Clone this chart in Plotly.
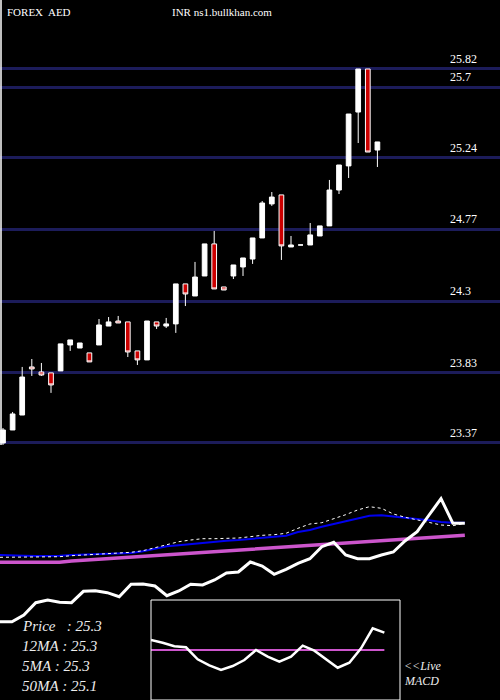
import plotly.graph_objects as go

# Candles (price, AED/INR)
opens = [23.370,23.455,23.553,23.868,23.835,23.829,23.842,24.012,23.992,23.960,
         24.012,24.136,24.169,24.163,23.973,23.914,24.163,24.136,24.150,24.412,
         24.333,24.464,24.674,24.392,24.464,24.523,24.575,24.713,24.936,24.995,
         24.654,24.667,24.667,24.726,24.792,25.027,25.185,25.538,25.820,25.289]
highs = [23.468,23.573,23.868,23.920,23.894,23.829,24.019,24.045,24.025,23.960,
         24.182,24.195,24.202,24.163,23.973,24.169,24.163,24.189,24.412,24.412,
         24.556,24.674,24.759,24.392,24.536,24.582,24.713,24.955,25.014,24.995,
         24.726,24.667,24.811,24.792,25.093,25.191,25.525,25.820,25.820,25.342]
lows = [23.357,23.455,23.553,23.809,23.809,23.698,23.842,23.973,23.992,23.901,
        24.012,24.136,24.156,23.933,23.881,23.914,24.117,24.123,24.091,24.267,
        24.333,24.464,24.379,24.372,24.444,24.464,24.543,24.713,24.923,24.569,
        24.654,24.667,24.667,24.726,24.792,25.001,25.106,25.335,25.276,25.178]
closes = [23.455,23.560,23.802,23.855,23.815,23.750,24.019,24.045,24.025,23.901,
          24.143,24.163,24.156,23.966,23.914,24.169,24.136,24.150,24.412,24.346,
          24.457,24.674,24.379,24.372,24.536,24.582,24.713,24.942,24.981,24.661,
          24.667,24.667,24.733,24.792,25.027,25.191,25.525,25.820,25.276,25.342]
price_ticks = [25.82, 25.7, 25.24, 24.77, 24.3, 23.83, 23.37]
tick_labels = ["25.82", "25.7", "25.24", "24.77", "24.3", "23.83", "23.37"]

# Lower indicator panel (arbitrary units)
price_line = [7.83,7.83,8.5,9.73,10.0,9.77,9.73,10.87,10.93,10.73,10.33,11.57,11.6,11.4,10.43,10.9,
              11.57,11.5,12.0,12.7,12.8,13.8,13.4,12.57,13.07,13.67,14.13,15.33,15.77,14.5,14.13,
              14.13,14.5,14.8,15.93,16.83,18.5,20.13,17.67,17.67]
ma12 = [14.5,14.5,14.43,14.4,14.4,14.43,14.5,14.53,14.6,14.63,14.67,14.7,14.87,15.1,15.37,15.47,
        15.6,15.7,15.8,15.93,16.0,16.1,16.17,16.27,16.43,16.8,17.0,17.33,17.6,17.83,18.13,18.43,
        18.47,18.37,18.23,18.1,17.97,17.8,17.73,17.73]
ma5 = [14.27,14.27,14.27,14.27,14.27,14.33,14.43,14.5,14.57,14.63,14.7,14.77,14.93,15.23,15.57,
       15.83,16.0,16.13,16.13,16.13,16.2,16.33,16.47,16.53,16.67,17.17,17.6,17.73,18.1,18.53,19.0,
       19.33,19.17,18.6,18.27,18.0,17.73,17.5,17.43,17.67]
ma50 = [13.77,13.77,13.77,13.77,13.77,13.77,13.9,13.98,14.06,14.13,14.21,14.29,14.37,14.44,14.52,
        14.6,14.68,14.76,14.83,14.91,14.99,15.07,15.14,15.22,15.3,15.38,15.46,15.53,15.61,15.69,
        15.77,15.85,15.92,16.0,16.08,16.16,16.24,16.31,16.39,16.47]
macd = [1.0,0.73,0.37,0.27,-0.93,-1.53,-2.0,-1.6,-1.0,0.0,-0.67,-1.17,-0.67,0.43,-0.07,-0.93,
        -1.77,-1.27,0.17,2.17,1.73]
macd_signal = [0.0] * 21

idx = list(range(len(opens)))
li = list(range(len(price_line)))
mi = list(range(len(macd)))

fig = go.Figure()
fig.add_trace(go.Candlestick(
    x=idx, open=opens, high=highs, low=lows, close=closes,
    increasing=dict(fillcolor="white", line=dict(color="white", width=1)),
    decreasing=dict(fillcolor="#cc0000", line=dict(color="white", width=1)),
    whiskerwidth=0, showlegend=False, xaxis="x", yaxis="y"))

fig.add_trace(go.Scatter(x=li, y=ma50, mode="lines", line=dict(color="#cc55cc", width=3.5),
                         xaxis="x2", yaxis="y2", showlegend=False))
fig.add_trace(go.Scatter(x=li, y=ma12, mode="lines", line=dict(color="#0000ee", width=2),
                         xaxis="x2", yaxis="y2", showlegend=False))
fig.add_trace(go.Scatter(x=li, y=ma5, mode="lines", line=dict(color="white", width=1, dash="dot"),
                         xaxis="x2", yaxis="y2", showlegend=False))
fig.add_trace(go.Scatter(x=li, y=price_line, mode="lines", line=dict(color="white", width=3),
                         xaxis="x2", yaxis="y2", showlegend=False))
fig.add_trace(go.Scatter(x=mi, y=macd_signal, mode="lines", line=dict(color="#cc55cc", width=2),
                         xaxis="x3", yaxis="y3", showlegend=False))
fig.add_trace(go.Scatter(x=mi, y=macd, mode="lines", line=dict(color="white", width=2.5),
                         xaxis="x3", yaxis="y3", showlegend=False))

ann = []
for v, t in zip(price_ticks, tick_labels):
    ann.append(dict(x=448/500, xref="paper", y=v, yref="y", text=t,
                    showarrow=False, xanchor="left", yanchor="bottom", yshift=1,
                    font=dict(family="Liberation Serif", size=12, color="white")))

ann.append(dict(x=5/500, y=1 - 12/700, xref="paper", yref="paper", text="FOREX  AED",
                showarrow=False, xanchor="left", yanchor="middle",
                font=dict(family="Liberation Serif", size=11, color="white")))
ann.append(dict(x=170/500, y=1 - 12/700, xref="paper", yref="paper", text="INR ns1.bullkhan.com",
                showarrow=False, xanchor="left", yanchor="middle",
                font=dict(family="Liberation Serif", size=11, color="white")))
legend_lines = ["Price   : 25.3", "12MA : 25.3", "5MA : 25.3", "50MA : 25.1"]
for k, t in enumerate(legend_lines):
    ann.append(dict(x=20/500, y=1 - (626 + 20*k)/700, xref="paper", yref="paper", text="<i>"+t+"</i>",
                    showarrow=False, xanchor="left", yanchor="middle",
                    font=dict(family="Liberation Serif", size=15, color="#eeeeee")))
ann.append(dict(x=402/500, y=1 - 666/700, xref="paper", yref="paper", text="<i><<Live</i>",
                showarrow=False, xanchor="left", yanchor="middle",
                font=dict(family="Liberation Serif", size=12, color="#eeeeee")))
ann.append(dict(x=402/500, y=1 - 681/700, xref="paper", yref="paper", text="<i>MACD</i>",
                showarrow=False, xanchor="left", yanchor="middle",
                font=dict(family="Liberation Serif", size=12, color="#eeeeee")))

shapes = [
    dict(type="rect", xref="paper", yref="paper", x0=151/500, x1=400/500, y0=0, y1=100/700,
         line=dict(color="white", width=1)),
    dict(type="line", xref="paper", yref="paper", x0=1/500, x1=1/500, y0=1 - 445/700, y1=1,
         line=dict(color="white", width=1.5)),
]

ax_off = dict(showgrid=False, zeroline=False, showticklabels=False, showline=False)
fig.update_layout(
    width=500, height=700, margin=dict(l=0, r=0, t=0, b=0),
    paper_bgcolor="black", plot_bgcolor="rgba(0,0,0,0)",
    xaxis=dict(range=[-0.3125, 51.77], domain=[0, 1], rangeslider=dict(visible=False), **ax_off),
    yaxis=dict(range=[21.686, 26.272], domain=[0, 1], tickvals=price_ticks, showgrid=True,
               gridcolor="#1c1c5a", gridwidth=3, showticklabels=False, zeroline=False),
    xaxis2=dict(range=[0, 41.95], domain=[0, 1], anchor="y2", **ax_off),
    yaxis2=dict(range=[0, 70], domain=[0, 1], anchor="x2", **ax_off),
    xaxis3=dict(range=[0, 21.34], domain=[151/500, 400/500], anchor="y3", **ax_off),
    yaxis3=dict(range=[-5, 5], domain=[0, 100/700], anchor="x3", **ax_off),
    annotations=ann, shapes=shapes, showlegend=False,
)
fig.write_html("out.html", config={"displayModeBar": False},
               post_script="document.body.style.margin='0';")
